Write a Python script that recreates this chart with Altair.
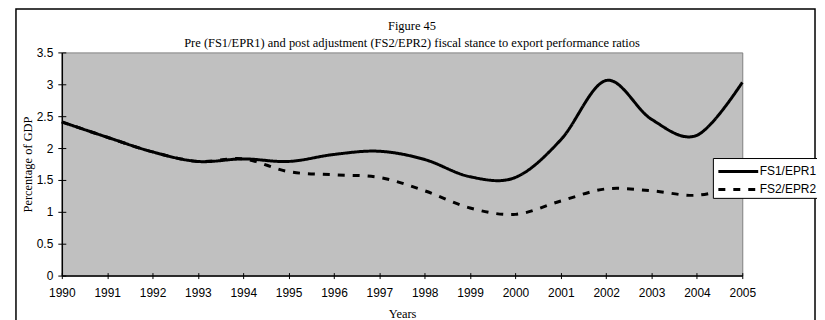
import altair as alt
import pandas as pd

# ---- data ----
years = list(range(1990, 2006))
fs1 = [2.41, 2.17, 1.94, 1.79, 1.83, 1.79, 1.90, 1.95, 1.82, 1.55, 1.54, 2.13, 3.06, 2.45, 2.20, 3.03]
fs2 = [2.41, 2.17, 1.94, 1.79, 1.83, 1.63, 1.58, 1.54, 1.33, 1.06, 0.96, 1.17, 1.36, 1.33, 1.26, 1.42]
series = ["FS1/EPR1", "FS2/EPR2"]
y_ticks = [0, 0.5, 1, 1.5, 2, 2.5, 3, 3.5]

rows = []
for s, vals in zip(series, [fs1, fs2]):
    for yr, v in zip(years, vals):
        rows.append({"Year": yr, "Value": v, "Series": s})
df = pd.DataFrame(rows)

SANS = "Liberation Sans"
SERIF = "Liberation Serif"

xscale = alt.Scale(domain=[1990, 2005], nice=False, zero=False)
yscale = alt.Scale(domain=[0, 3.5], nice=False)

frame = alt.Chart(alt.Data(values=[{}])).mark_rect(
    fillOpacity=0, stroke="black", strokeWidth=1.5
).encode(
    x=alt.value(-46), x2=alt.value(756), y=alt.value(-43.5), y2=alt.value(290)
)

lines = alt.Chart(df).mark_line(color="black", strokeWidth=3, interpolate="cardinal").encode(
    x=alt.X("Year:Q", scale=xscale,
            axis=alt.Axis(values=years, format="d", orient="bottom", title="Years",
                          tickSize=3, tickColor="black", domainColor="black", domainWidth=1.5,
                          labelFont=SANS, labelFontSize=12, labelColor="black", labelPadding=9,
                          labelFlush=False, labelOverlap=False, labelBound=False,
                          titleFont=SERIF, titleFontSize=12.5, titleFontWeight="normal",
                          titleColor="black", titlePadding=9, grid=False)),
    y=alt.Y("Value:Q", scale=yscale,
            axis=alt.Axis(values=y_ticks, format="~g", orient="left", title="Percentage of GDP",
                          tickSize=4, tickColor="black", domainColor="black", domainWidth=1.5,
                          labelFont=SANS, labelFontSize=12, labelColor="black", labelPadding=5,
                          labelFlush=False, labelOverlap=False,
                          titleFont=SERIF, titleFontSize=12.5, titleFontWeight="normal",
                          titleColor="black", titlePadding=2, grid=False)),
    strokeDash=alt.StrokeDash(
        "Series:N",
        scale=alt.Scale(domain=series, range=[[1, 0], [7, 8]]),
        legend=alt.Legend(title=None, orient="none", legendX=653.5, legendY=106,
                          fillColor="white", strokeColor="black", padding=2,
                          symbolType="M-0.8,0H3.2", symbolSize=400, symbolStrokeWidth=3,
                          symbolStrokeColor="black",
                          labelFont=SANS, labelFontSize=12, labelColor="black",
                          labelOffset=22, rowPadding=0),
    ),
)

ticks = alt.Chart(df).mark_point(opacity=0).encode(
    x=alt.X("Year:Q", scale=xscale,
            axis=alt.Axis(values=years, orient="bottom", offset=-3, tickSize=3,
                          tickColor="black", labels=False, domain=False, title=None, grid=False)),
    y=alt.Y("Value:Q", scale=yscale,
            axis=alt.Axis(values=y_ticks, orient="left", offset=-4, tickSize=4,
                          tickColor="black", labels=False, domain=False, title=None, grid=False)),
)

chart = alt.layer(frame, lines, ticks).resolve_axis(
    x="independent", y="independent"
).properties(
    width=683, height=224,
    autosize=alt.AutoSizeParams(type="none"),
    padding={"left": 54, "top": 44, "right": 75, "bottom": 44},
    background="white",
    title=alt.TitleParams(
        text=["Figure 45",
              "Pre (FS1/EPR1) and post adjustment (FS2/EPR2) fiscal stance to export performance ratios"],
        font=SERIF, fontSize=12.5, fontWeight="normal", color="black",
        anchor="middle", frame="group", lineHeight=17, offset=-41, dx=10),
).configure_view(
    fill="#C0C0C0", stroke="#808080", strokeWidth=1
)

chart.save("out.html", embed_options={"renderer": "svg", "actions": False})
